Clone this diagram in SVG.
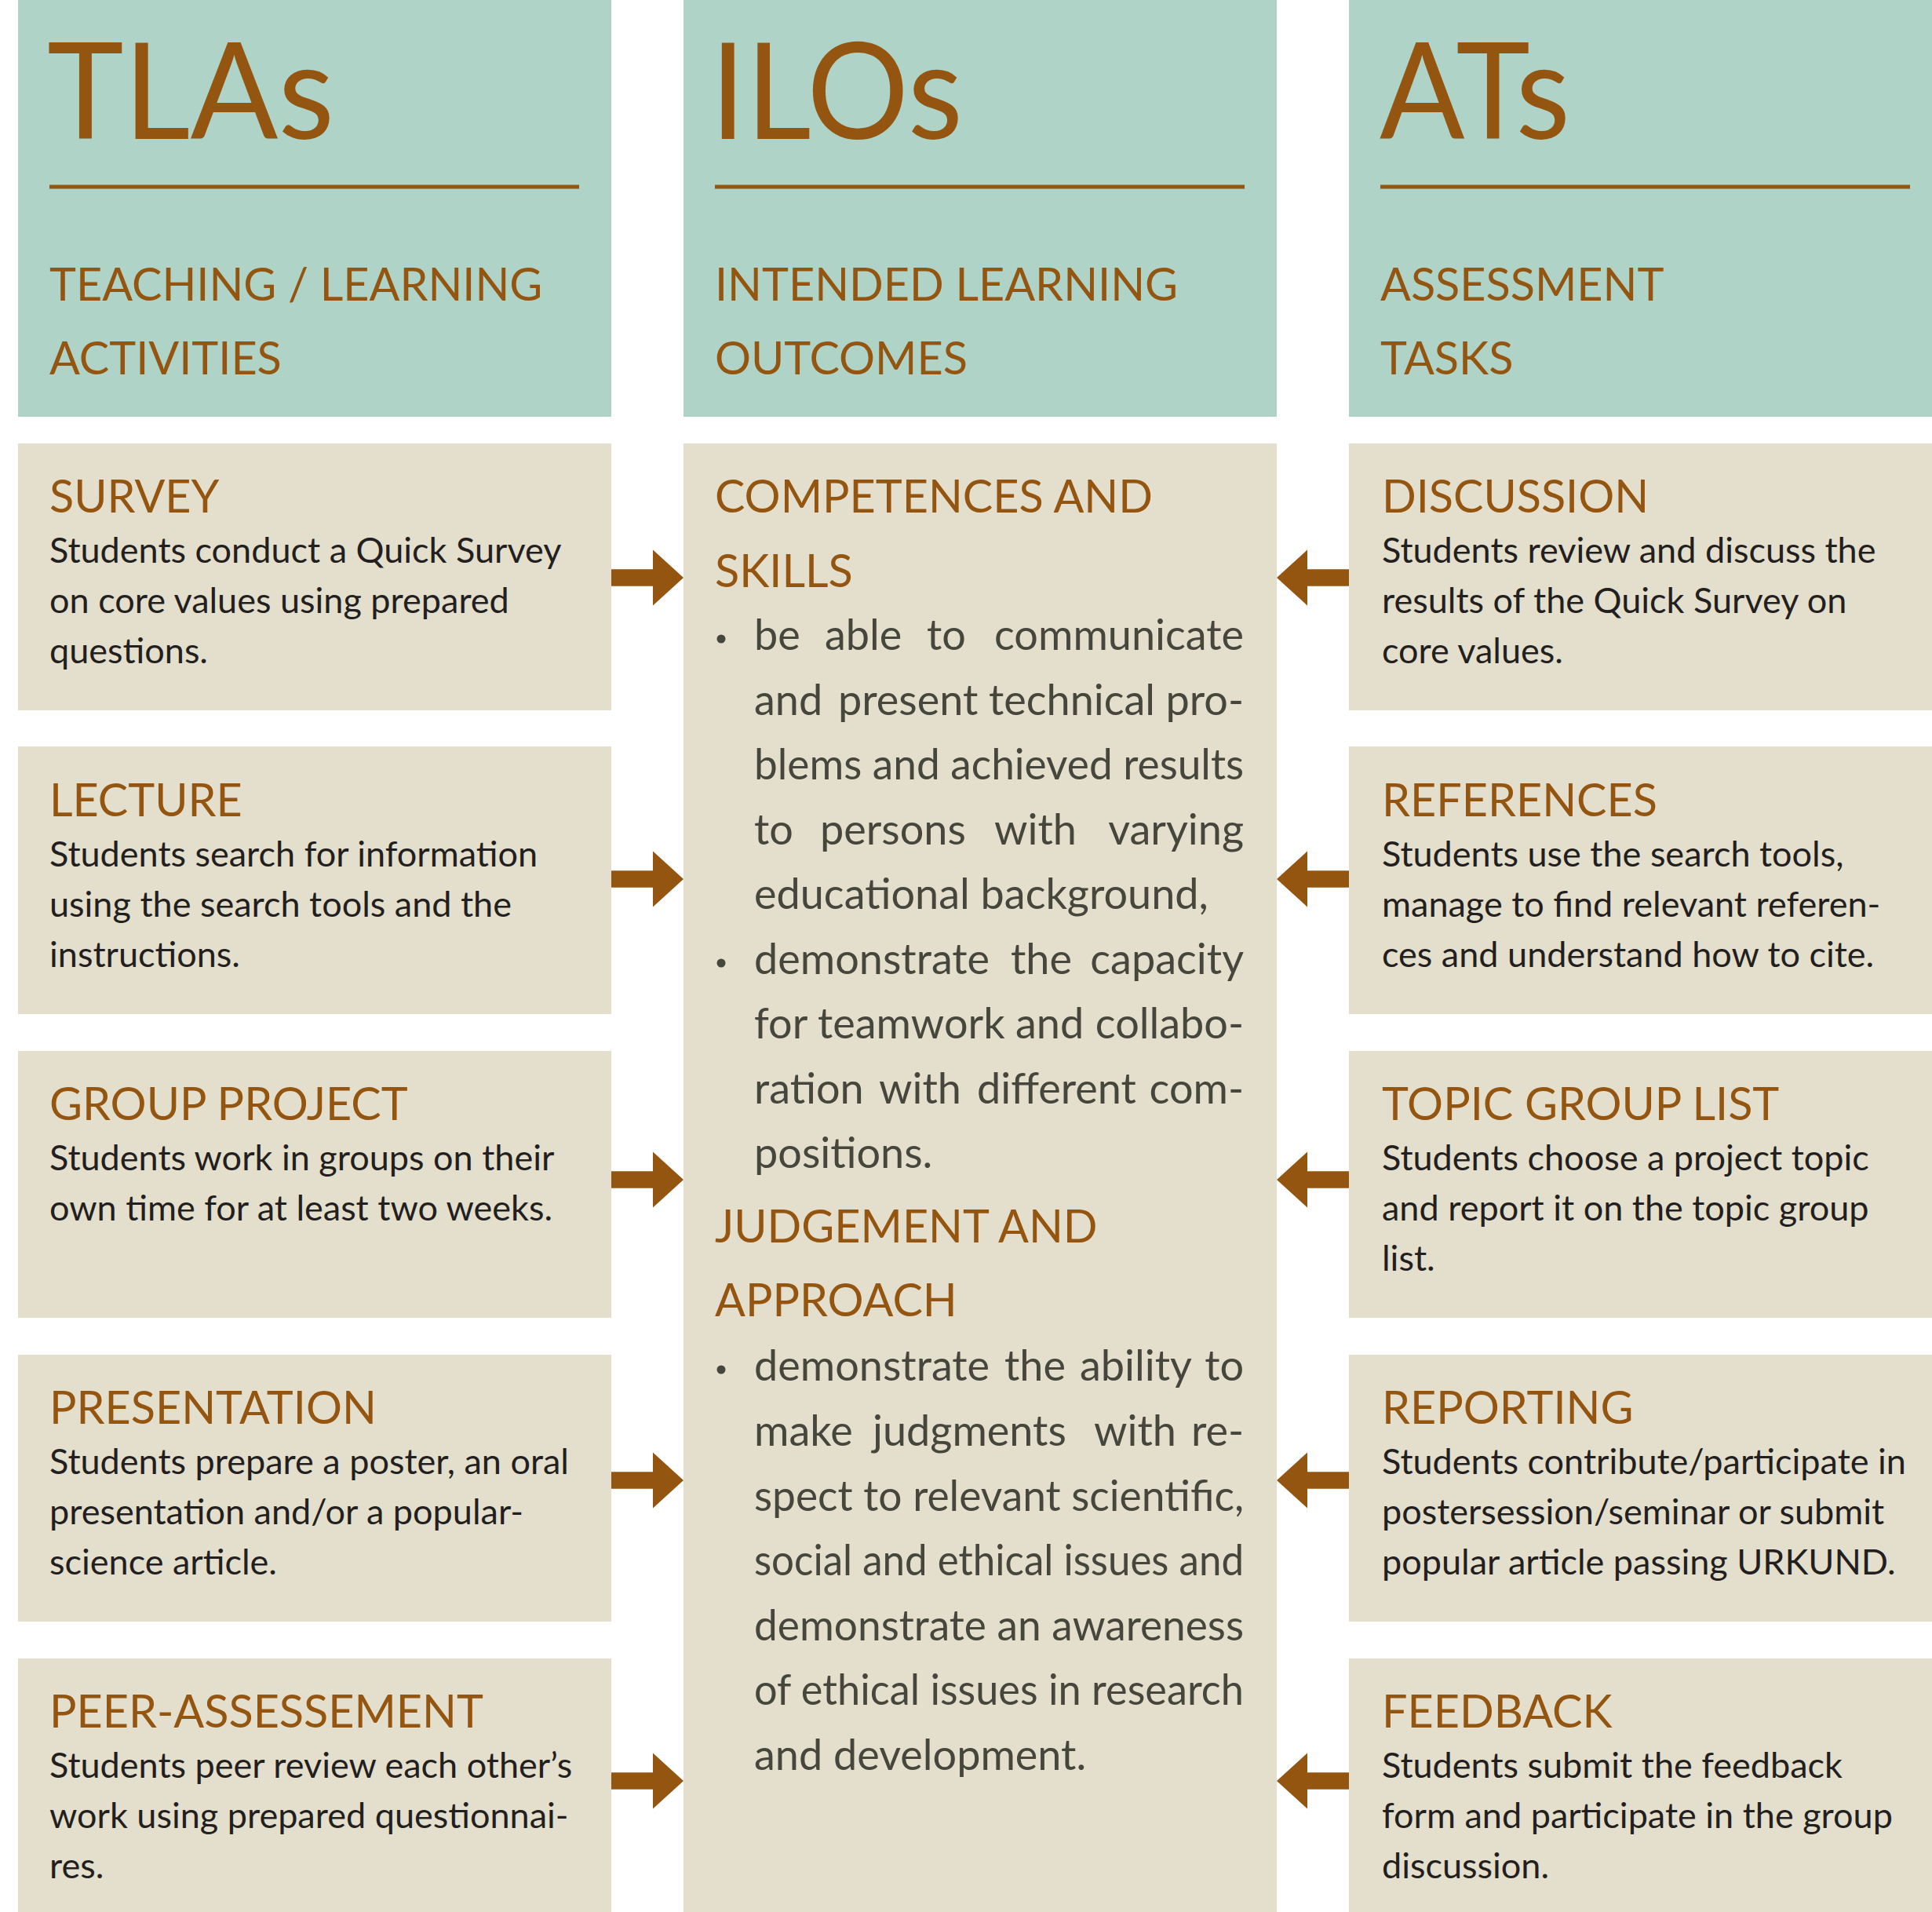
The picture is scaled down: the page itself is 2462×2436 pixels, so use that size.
<svg xmlns="http://www.w3.org/2000/svg" width="2462" height="2436" viewBox="0 0 2462 2436">
<style>
.hdr{fill:#AFD3C6}
.box{fill:#E4DFCC}
.big{font-family:Lato,"Open Sans","Noto Sans",sans-serif;font-size:170px;fill:#93550F}
.sub{font-family:Lato,"Open Sans","Noto Sans",sans-serif;font-size:57.5px;fill:#93550F}
.ttl{font-family:Lato,"Open Sans","Noto Sans",sans-serif;font-size:57.5px;fill:#93550F}
.body{font-family:Lato,"Open Sans","Noto Sans",sans-serif;font-size:45px;fill:#231F20}
.mid{font-family:Lato,"Open Sans","Noto Sans",sans-serif;font-size:54px;fill:#47463D}
.rule{stroke:#93550F;stroke-width:5}
.arrow{fill:#93550F}
.dot{fill:#47463D}
</style>
<defs>
<path id="arrowR" d="M0,-10.8 H53 V-35.5 L92,0 L53,35.5 V10.8 H0 Z"/>
<path id="arrowL" d="M0,-10.8 H-53 V-35.5 L-92,0 L-53,35.5 V10.8 H0 Z"/>
</defs>
<rect x="0" y="0" width="2462" height="2436" fill="#FFFFFF"/>

<g id="header-tlas">
<rect class="hdr" x="23" y="0" width="756" height="531"/>
<text class="big" x="60" y="177" textLength="366" lengthAdjust="spacingAndGlyphs">TLAs</text>
<line class="rule" x1="63" y1="238" x2="738" y2="238"/>
<text class="sub" x="63" y="383">TEACHING / LEARNING</text>
<text class="sub" x="63" y="477">ACTIVITIES</text>
</g>
<g id="header-ilos">
<rect class="hdr" x="871" y="0" width="756" height="531"/>
<text class="big" x="905" y="177" textLength="322" lengthAdjust="spacingAndGlyphs">ILOs</text>
<line class="rule" x1="911" y1="238" x2="1586" y2="238"/>
<text class="sub" x="911" y="383">INTENDED LEARNING</text>
<text class="sub" x="911" y="477">OUTCOMES</text>
</g>
<g id="header-ats">
<rect class="hdr" x="1719" y="0" width="743" height="531"/>
<text class="big" x="1758" y="177" textLength="243" lengthAdjust="spacingAndGlyphs">ATs</text>
<line class="rule" x1="1759" y1="238" x2="2434" y2="238"/>
<text class="sub" x="1759" y="383">ASSESSMENT</text>
<text class="sub" x="1759" y="477">TASKS</text>
</g>

<g id="tla-survey">
<rect class="box" x="23" y="565" width="756" height="340"/>
<text class="ttl" x="63" y="653">SURVEY</text>
<text class="body" x="63" y="717">Students conduct a Quick Survey</text>
<text class="body" x="63" y="781">on core values using prepared</text>
<text class="body" x="63" y="845">questions.</text>
</g>
<g id="tla-lecture">
<rect class="box" x="23" y="951" width="756" height="341"/>
<text class="ttl" x="63" y="1040">LECTURE</text>
<text class="body" x="63" y="1104">Students search for information</text>
<text class="body" x="63" y="1168">using the search tools and the</text>
<text class="body" x="63" y="1232">instructions.</text>
</g>
<g id="tla-group-project">
<rect class="box" x="23" y="1339" width="756" height="340"/>
<text class="ttl" x="63" y="1427">GROUP PROJECT</text>
<text class="body" x="63" y="1491">Students work in groups on their</text>
<text class="body" x="63" y="1555">own time for at least two weeks.</text>
</g>
<g id="tla-presentation">
<rect class="box" x="23" y="1726" width="756" height="340"/>
<text class="ttl" x="63" y="1814">PRESENTATION</text>
<text class="body" x="63" y="1878">Students prepare a poster, an oral</text>
<text class="body" x="63" y="1942">presentation and/or a popular-</text>
<text class="body" x="63" y="2006">science article.</text>
</g>
<g id="tla-peer-assessement">
<rect class="box" x="23" y="2113" width="756" height="323"/>
<text class="ttl" x="63" y="2201">PEER-ASSESSEMENT</text>
<text class="body" x="63" y="2265">Students peer review each other’s</text>
<text class="body" x="63" y="2329">work using prepared questionnai-</text>
<text class="body" x="63" y="2393">res.</text>
</g>

<g id="ilo-outcomes">
<rect class="box" x="871" y="565" width="756" height="1871"/>
<text class="ttl" x="911" y="653">COMPETENCES AND</text>
<text class="ttl" x="911" y="748">SKILLS</text>
<circle class="dot" cx="919" cy="814" r="5.5"/>
<text class="mid" y="828"><tspan x="961">be</tspan><tspan x="1051">able</tspan><tspan x="1181">to</tspan><tspan x="1585" text-anchor="end">communicate</tspan></text>
<text class="mid" y="911"><tspan x="961">and</tspan><tspan x="1068">present</tspan><tspan x="1260">technical</tspan><tspan x="1585" text-anchor="end">pro-</tspan></text>
<text class="mid" x="961" y="993" textLength="624" lengthAdjust="spacingAndGlyphs">blems and achieved results</text>
<text class="mid" y="1076"><tspan x="961">to</tspan><tspan x="1045">persons</tspan><tspan x="1267">with</tspan><tspan x="1585" text-anchor="end">varying</tspan></text>
<text class="mid" x="961" y="1158">educational background,</text>
<circle class="dot" cx="919" cy="1227" r="5.5"/>
<text class="mid" y="1241"><tspan x="961">demonstrate</tspan><tspan x="1288">the</tspan><tspan x="1585" text-anchor="end">capacity</tspan></text>
<text class="mid" y="1323"><tspan x="961">for</tspan><tspan x="1042">teamwork</tspan><tspan x="1294">and</tspan><tspan x="1585" text-anchor="end">collabo-</tspan></text>
<text class="mid" y="1406"><tspan x="961">ration</tspan><tspan x="1120">with</tspan><tspan x="1245">different</tspan><tspan x="1585" text-anchor="end">com-</tspan></text>
<text class="mid" x="961" y="1488">positions.</text>
<text class="ttl" x="911" y="1583">JUDGEMENT AND</text>
<text class="ttl" x="911" y="1677">APPROACH</text>
<circle class="dot" cx="919" cy="1745" r="5.5"/>
<text class="mid" y="1759"><tspan x="961">demonstrate</tspan><tspan x="1280">the</tspan><tspan x="1376">ability</tspan><tspan x="1585" text-anchor="end">to</tspan></text>
<text class="mid" y="1842"><tspan x="961">make</tspan><tspan x="1112">judgments</tspan><tspan x="1394">with</tspan><tspan x="1585" text-anchor="end">re-</tspan></text>
<text class="mid" x="961" y="1925" textLength="624" lengthAdjust="spacingAndGlyphs">spect to relevant scientific,</text>
<text class="mid" x="961" y="2007" textLength="624" lengthAdjust="spacingAndGlyphs">social and ethical issues and</text>
<text class="mid" x="961" y="2090" textLength="624" lengthAdjust="spacingAndGlyphs">demonstrate an awareness</text>
<text class="mid" x="961" y="2172" textLength="624" lengthAdjust="spacingAndGlyphs">of ethical issues in research</text>
<text class="mid" x="961" y="2255">and development.</text>
</g>

<g id="at-discussion">
<rect class="box" x="1719" y="565" width="743" height="340"/>
<text class="ttl" x="1761" y="653">DISCUSSION</text>
<text class="body" x="1761" y="717">Students review and discuss the</text>
<text class="body" x="1761" y="781">results of the Quick Survey on</text>
<text class="body" x="1761" y="845">core values.</text>
</g>
<g id="at-references">
<rect class="box" x="1719" y="951" width="743" height="341"/>
<text class="ttl" x="1761" y="1040">REFERENCES</text>
<text class="body" x="1761" y="1104">Students use the search tools,</text>
<text class="body" x="1761" y="1168">manage to find relevant referen-</text>
<text class="body" x="1761" y="1232">ces and understand how to cite.</text>
</g>
<g id="at-topic-group-list">
<rect class="box" x="1719" y="1339" width="743" height="340"/>
<text class="ttl" x="1761" y="1427">TOPIC GROUP LIST</text>
<text class="body" x="1761" y="1491">Students choose a project topic</text>
<text class="body" x="1761" y="1555">and report it on the topic group</text>
<text class="body" x="1761" y="1619">list.</text>
</g>
<g id="at-reporting">
<rect class="box" x="1719" y="1726" width="743" height="340"/>
<text class="ttl" x="1761" y="1814">REPORTING</text>
<text class="body" x="1761" y="1878">Students contribute/participate in</text>
<text class="body" x="1761" y="1942">postersession/seminar or submit</text>
<text class="body" x="1761" y="2006">popular article passing URKUND.</text>
</g>
<g id="at-feedback">
<rect class="box" x="1719" y="2113" width="743" height="323"/>
<text class="ttl" x="1761" y="2201">FEEDBACK</text>
<text class="body" x="1761" y="2265">Students submit the feedback</text>
<text class="body" x="1761" y="2329">form and participate in the group</text>
<text class="body" x="1761" y="2393">discussion.</text>
</g>

<g id="connectors" class="arrow">
<use href="#arrowR" x="779" y="736"/>
<use href="#arrowR" x="779" y="1120"/>
<use href="#arrowR" x="779" y="1503"/>
<use href="#arrowR" x="779" y="1886"/>
<use href="#arrowR" x="779" y="2269"/>
<use href="#arrowL" x="1719" y="736"/>
<use href="#arrowL" x="1719" y="1120"/>
<use href="#arrowL" x="1719" y="1503"/>
<use href="#arrowL" x="1719" y="1886"/>
<use href="#arrowL" x="1719" y="2269"/>
</g>
</svg>
